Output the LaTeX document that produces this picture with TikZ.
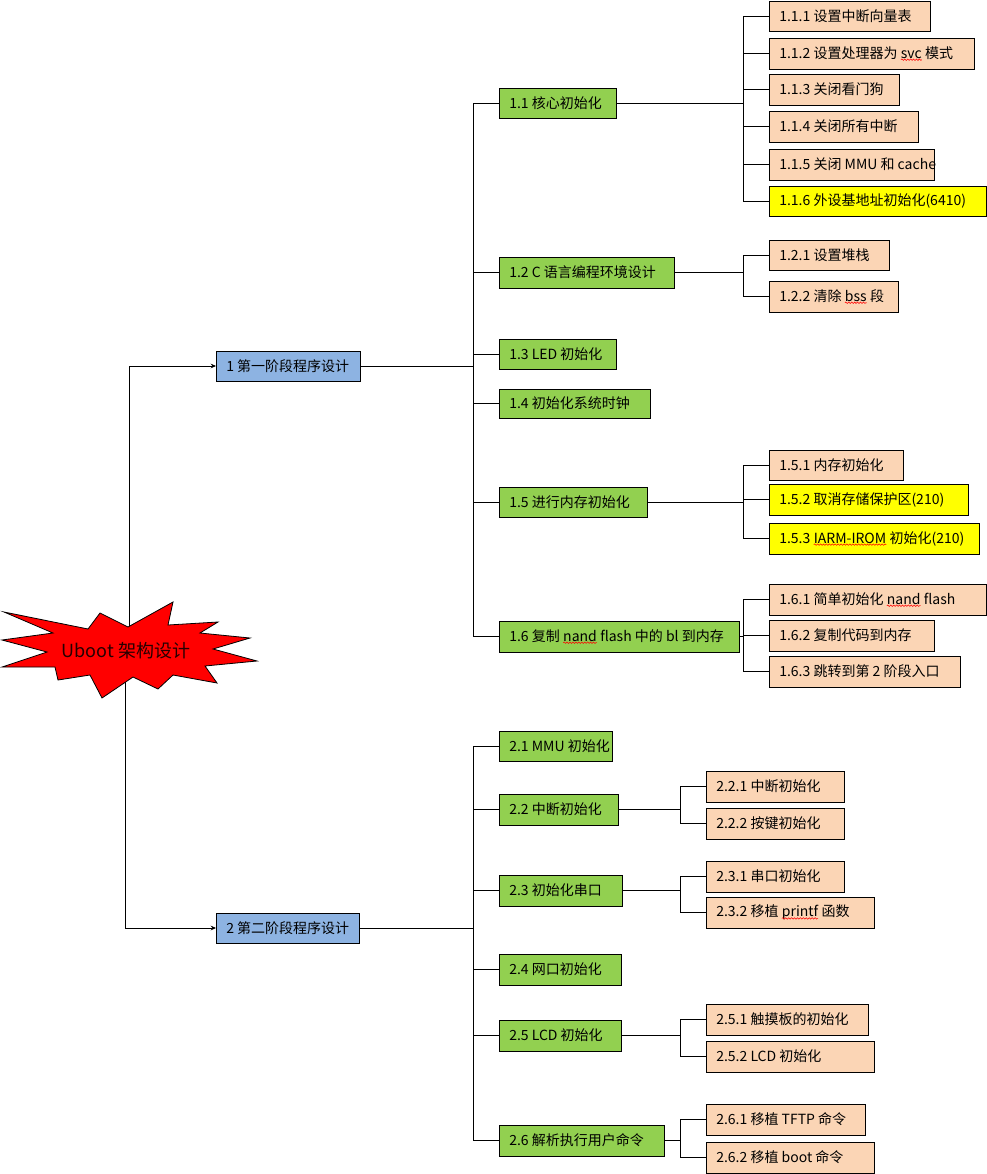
\documentclass[tikz,border=0pt]{standalone}
\usepackage{fontspec}
\setmainfont{Noto Sans CJK SC}
\usetikzlibrary{arrows.meta,decorations.pathmorphing}
\definecolor{bluebox}{HTML}{8DB3E2}
\definecolor{greenbox}{HTML}{92D050}
\definecolor{peachbox}{HTML}{FBD5B5}
\definecolor{yellowbox}{HTML}{FFFF00}
\definecolor{starred}{HTML}{FF0000}
\newcommand\spellwave[1]{\tikz[baseline=(sw.base)]{\node[inner sep=0pt, outer sep=0pt] (sw) {#1};
  \draw[red, line width=0.4pt, decorate, decoration={snake, amplitude=0.55pt, segment length=2.2pt}]
    ([yshift=-1.2pt]sw.base west) -- ([yshift=-1.2pt]sw.base east);}}
\tikzset{
  boxbase/.style={draw=black, line width=0.75pt, inner sep=0pt, outer sep=0pt},
  lvone/.style={boxbase, fill=bluebox},
  lvtwo/.style={boxbase, fill=greenbox},
  lvthree/.style={boxbase, fill=peachbox},
  lvhigh/.style={boxbase, fill=yellowbox},
  boxtext/.style={inner sep=0pt, font=\fontsize{10.5}{12}\selectfont, text=black},
  conn/.style={draw=black, line width=0.75pt},
  arr/.style={conn, -{Stealth[length=4pt,width=3.5pt]}},
}
\newcommand\bx[7]{%
  \node[#6, minimum width={(#4-#2)*0.75pt}, minimum height={(#5-#3)*0.75pt}] (#1) at ({(#2+#4)/2},{(#3+#5)/2}) {};
  \node[boxtext, anchor=west] (#1t) at ([xshift=7.5pt]#1.west) {#7};}
\begin{document}
\begin{tikzpicture}[x=0.75pt,y=-0.75pt]
\useasboundingbox (0,0) rectangle (987,1174);

% level 1
\bx{b1}{216}{351}{360}{381}{lvone}{1 第一阶段程序设计}
\bx{b2}{216}{913}{359}{943}{lvone}{2 第二阶段程序设计}

% level 2
\bx{g11}{499}{88}{616}{118}{lvtwo}{1.1 核心初始化}
\bx{g12}{499}{257}{674}{288}{lvtwo}{1.2 C 语言编程环境设计}
\bx{g13}{499}{339}{616}{369}{lvtwo}{1.3 LED 初始化}
\bx{g14}{499}{389}{650}{418}{lvtwo}{1.4 初始化系统时钟}
\bx{g15}{499}{487}{647}{517}{lvtwo}{1.5 进行内存初始化}
\bx{g16}{499}{621}{739}{652}{lvtwo}{1.6 复制 \spellwave{nand} flash 中的 bl 到内存}
\bx{g21}{499}{731}{612}{761}{lvtwo}{2.1 MMU 初始化}
\bx{g22}{499}{794}{618}{825}{lvtwo}{2.2 中断初始化}
\bx{g23}{499}{875}{622}{906}{lvtwo}{2.3 初始化串口}
\bx{g24}{499}{954}{621}{985}{lvtwo}{2.4 网口初始化}
\bx{g25}{499}{1020}{621}{1051}{lvtwo}{2.5 LCD 初始化}
\bx{g26}{499}{1125}{664}{1156}{lvtwo}{2.6 解析执行用户命令}

% level 3
\bx{p111}{769}{1}{930}{31}{lvthree}{1.1.1 设置中断向量表}
\bx{p112}{769}{38}{974}{69}{lvthree}{1.1.2 设置处理器为 \spellwave{svc} 模式}
\bx{p113}{769}{74}{899}{105}{lvthree}{1.1.3 关闭看门狗}
\bx{p114}{769}{111}{918}{142}{lvthree}{1.1.4 关闭所有中断}
\bx{p115}{769}{149}{934}{180}{lvthree}{1.1.5 关闭 MMU 和 cache}
\bx{p116}{769}{186}{986}{216}{lvhigh}{1.1.6 外设基地址初始化(6410)}
\bx{p121}{769}{240}{889}{270}{lvthree}{1.2.1 设置堆栈}
\bx{p122}{769}{281}{898}{312}{lvthree}{1.2.2 清除 \spellwave{bss} 段}
\bx{p151}{769}{450}{903}{480}{lvthree}{1.5.1 内存初始化}
\bx{p152}{769}{484}{968}{515}{lvhigh}{1.5.2 取消存储保护区(210)}
\bx{p153}{769}{523}{979}{554}{lvhigh}{1.5.3 \spellwave{IARM-IROM} 初始化(210)}
\bx{p161}{769}{584}{986}{615}{lvthree}{1.6.1 简单初始化 \spellwave{nand} flash}
\bx{p162}{769}{620}{934}{651}{lvthree}{1.6.2 复制代码到内存}
\bx{p163}{769}{656}{960}{687}{lvthree}{1.6.3 跳转到第 2 阶段入口}
\bx{p221}{706}{771}{844}{802}{lvthree}{2.2.1 中断初始化}
\bx{p222}{706}{808}{844}{839}{lvthree}{2.2.2 按键初始化}
\bx{p231}{706}{861}{844}{892}{lvthree}{2.3.1 串口初始化}
\bx{p232}{706}{897}{874}{928}{lvthree}{2.3.2 移植 \spellwave{printf} 函数}
\bx{p251}{706}{1004}{868}{1035}{lvthree}{2.5.1 触摸板的初始化}
\bx{p252}{706}{1041}{874}{1072}{lvthree}{2.5.2 LCD 初始化}
\bx{p261}{706}{1104}{865}{1135}{lvthree}{2.6.1 移植 TFTP 命令}
\bx{p262}{706}{1142}{874}{1173}{lvthree}{2.6.2 移植 boot 命令}

% trunk x positions
\coordinate (ta) at (473,0);
\coordinate (tb) at (743,0);
\coordinate (tc) at (680,0);

% stage 1 tree
\draw[conn] (b1.east) -- (b1.east -| ta);
\draw[conn] (g11.west -| ta) -- (g16.west -| ta);
\foreach \c in {g11,g12,g13,g14,g15,g16} \draw[conn] (\c.west) -- (\c.west -| ta);
% stage 2 tree
\draw[conn] (b2.east) -- (b2.east -| ta);
\draw[conn] (g21.west -| ta) -- (g26.west -| ta);
\foreach \c in {g21,g22,g23,g24,g25,g26} \draw[conn] (\c.west) -- (\c.west -| ta);

% sub groups
\draw[conn] (g11.east) -- (g11.east -| tb);
\draw[conn] (p111.west -| tb) -- (p116.west -| tb);
\foreach \c in {p111,p112,p113,p114,p115,p116} \draw[conn] (\c.west) -- (\c.west -| tb);
\draw[conn] (g12.east) -- (g12.east -| tb);
\draw[conn] (p121.west -| tb) -- (p122.west -| tb);
\foreach \c in {p121,p122} \draw[conn] (\c.west) -- (\c.west -| tb);
\draw[conn] (g15.east) -- (g15.east -| tb);
\draw[conn] (p151.west -| tb) -- (p153.west -| tb);
\foreach \c in {p151,p152,p153} \draw[conn] (\c.west) -- (\c.west -| tb);
\draw[conn] (g16.east) -- (g16.east -| tb);
\draw[conn] (p161.west -| tb) -- (p163.west -| tb);
\foreach \c in {p161,p162,p163} \draw[conn] (\c.west) -- (\c.west -| tb);

\draw[conn] (g22.east) -- (g22.east -| tc);
\draw[conn] (p221.west -| tc) -- (p222.west -| tc);
\foreach \c in {p221,p222} \draw[conn] (\c.west) -- (\c.west -| tc);
\draw[conn] (g23.east) -- (g23.east -| tc);
\draw[conn] (p231.west -| tc) -- (p232.west -| tc);
\foreach \c in {p231,p232} \draw[conn] (\c.west) -- (\c.west -| tc);
\draw[conn] (g25.east) -- (g25.east -| tc);
\draw[conn] (p251.west -| tc) -- (p252.west -| tc);
\foreach \c in {p251,p252} \draw[conn] (\c.west) -- (\c.west -| tc);
\draw[conn] (g26.east) -- (g26.east -| tc);
\draw[conn] (p261.west -| tc) -- (p262.west -| tc);
\foreach \c in {p261,p262} \draw[conn] (\c.west) -- (\c.west -| tc);

% root star connectors (drawn under the star)
\coordinate (rtop) at (129,650);
\coordinate (rbot) at (125,650);
\draw[arr] (rtop) |- (b1.west);
\draw[arr] (rbot) |- (b2.west);

% explosion star
\draw[fill=starred, draw=black, line width=0.6pt, line join=miter]
  (4,612) -- (88,629) -- (100,613) -- (128,627) -- (173,602) -- (168,625)
  -- (218,622) -- (200,633) -- (250,638) -- (213,649) -- (257,661)
  -- (205,666) -- (217,683) -- (173,675) -- (158,689) -- (133,677)
  -- (102,698) -- (90,675) -- (58,680) -- (55,667) -- (2,667)
  -- (47,652) -- (2,640) -- (53,633) -- cycle;
\node[inner sep=0pt, font=\fontsize{13.5}{15}\selectfont, text=black!85!red] (root) at (126,651) {Uboot 架构设计};
\end{tikzpicture}
\end{document}
